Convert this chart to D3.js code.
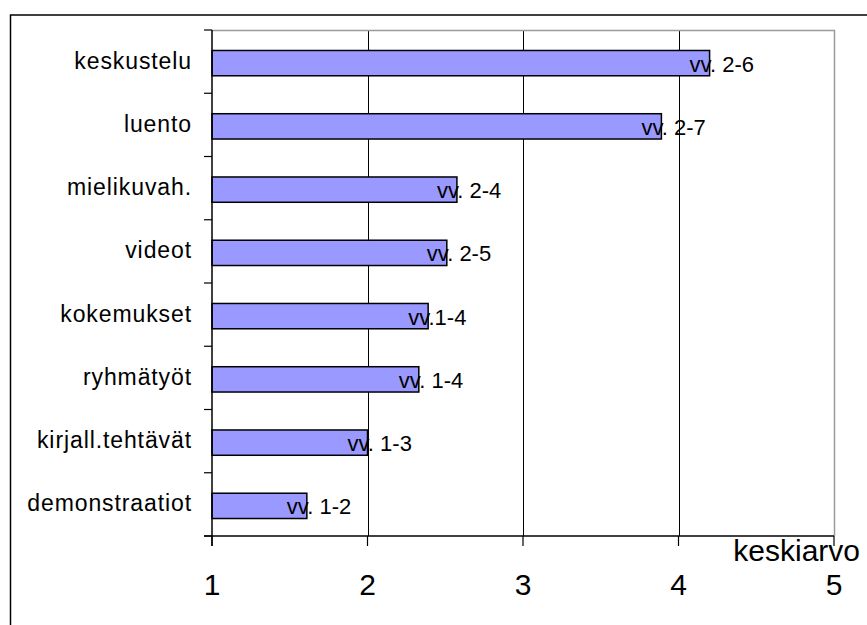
<!DOCTYPE html>
<html>
<head>
<meta charset="utf-8">
<script src="https://cdn.jsdelivr.net/npm/d3@7"></script>
<style>
  html, body { margin: 0; padding: 0; background: #fff; }
  svg { display: block; font-family: "Liberation Sans", Arial, sans-serif; }
</style>
</head>
<body>
<svg id="chart" width="867" height="625"></svg>
<script>
const categories = ["keskustelu", "luento", "mielikuvah.", "videot", "kokemukset", "ryhmätyöt", "kirjall.tehtävät", "demonstraatiot"];
const means = [4.20, 3.89, 2.575, 2.51, 2.39, 2.33, 2.0, 1.61];
const rangeLabels = ["vv. 2-6", "vv. 2-7", "vv. 2-4", "vv. 2-5", "vv.1-4", "vv. 1-4", "vv. 1-3", "vv. 1-2"];
const xTicks = [1, 2, 3, 4, 5];
const xTitle = "keskiarvo";

(function () {
const svg = d3.select("#chart");
const pL = 212, pR = 834, pT = 30, pB = 536;

// outer frame (only left and top visible)
svg.append("rect").attr("x", 10.5).attr("y", 15).attr("width", 1000).attr("height", 1000)
  .attr("fill", "none").attr("stroke", "#000").attr("stroke-width", 1.5);

const x = d3.scaleLinear().domain([1, 5]).range([pL, pR]);
const y = d3.scaleBand().domain(categories).range([pT, pB]).paddingInner(0.6).paddingOuter(0.3);

// gridlines
svg.append("g").selectAll("line").data(xTicks.filter(t => t > 1 && t < 5)).join("line")
  .attr("x1", d => Math.round(x(d)) + 0.5).attr("x2", d => Math.round(x(d)) + 0.5)
  .attr("y1", pT).attr("y2", pB).attr("stroke", "#000").attr("stroke-width", 1);

// plot border top and right (gray)
svg.append("path")
  .attr("d", `M${pL},${pT + 0.5}H${pR + 0.5}V${pB}`)
  .attr("fill", "none").attr("stroke", "#9a9a9a").attr("stroke-width", 1.5);

// bars
svg.append("g").selectAll("rect").data(categories).join("rect")
  .attr("x", pL)
  .attr("y", d => y(d) + 1.5)
  .attr("width", (d, i) => x(means[i]) - pL)
  .attr("height", y.bandwidth())
  .attr("fill", "#9999ff").attr("stroke", "#000").attr("stroke-width", 1.5);

// y axis
const yEdges = d3.range(categories.length + 1).map(i => pT + i * (pB - pT) / categories.length);
svg.append("line").attr("x1", pL).attr("x2", pL).attr("y1", pT).attr("y2", pB + 10)
  .attr("stroke", "#000").attr("stroke-width", 1.5);
svg.append("g").selectAll("line").data(yEdges).join("line")
  .attr("x1", pL - 8).attr("x2", pL).attr("y1", d => d).attr("y2", d => d)
  .attr("stroke", "#000").attr("stroke-width", 1.2);

// x axis
svg.append("line").attr("x1", pL - 8).attr("x2", pR).attr("y1", pB).attr("y2", pB)
  .attr("stroke", "#000").attr("stroke-width", 1.5);
svg.append("g").selectAll("line").data(xTicks).join("line")
  .attr("x1", d => x(d)).attr("x2", d => x(d)).attr("y1", pB).attr("y2", pB + 10)
  .attr("stroke", "#000").attr("stroke-width", 1.2);
svg.append("g").selectAll("text").data(xTicks).join("text")
  .attr("x", d => x(d)).attr("y", 595)
  .attr("text-anchor", "middle").attr("font-size", 30).attr("fill", "#000")
  .text(d => d);

svg.append("text").attr("x", 860).attr("y", 561).attr("text-anchor", "end")
  .attr("font-size", 30).attr("fill", "#000").text(xTitle);

// category labels
svg.append("g").selectAll("text").data(categories).join("text")
  .attr("x", 192).attr("y", d => y(d) + y.bandwidth() / 2 + 7)
  .attr("text-anchor", "end").attr("font-size", 23).attr("letter-spacing", 0.9)
  .attr("fill", "#000").text(d => d);

// data labels
svg.append("g").selectAll("text").data(categories).join("text")
  .attr("x", (d, i) => x(means[i]) - 20)
  .attr("y", d => y(d) + y.bandwidth() / 2 + 10)
  .attr("font-size", 22).attr("fill", "#000")
  .text((d, i) => rangeLabels[i]);
})();
</script>
</body>
</html>
